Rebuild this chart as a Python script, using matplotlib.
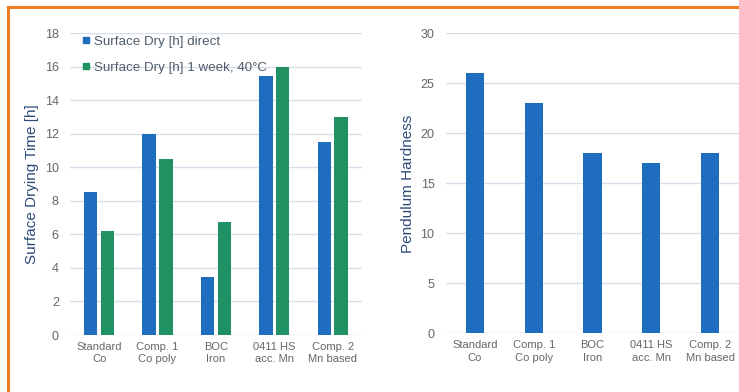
import matplotlib
matplotlib.use('Agg')
import matplotlib.pyplot as plt
import numpy as np
from matplotlib.lines import Line2D

plt.rcParams['font.family'] = ['Liberation Sans', 'DejaVu Sans']

categories = ['Standard\nCo', 'Comp. 1\nCo poly', 'BOC\nIron', '0411 HS\nacc. Mn', 'Comp. 2\nMn based']
dry_direct = [8.5, 12.0, 3.45, 15.45, 11.5]
dry_1week = [6.2, 10.5, 6.75, 16.0, 13.0]
hardness = [26, 23, 18, 17, 18]
series_names = ['Surface Dry [h] direct', 'Surface Dry [h] 1 week, 40°C']

BLUE = '#1f6dbf'
GREEN = '#1f9163'
GRID = '#d6dfe9'
TICK = '#666666'
LABEL = '#2d4a78'
ORANGE = '#f07d22'

fig = plt.figure(figsize=(7.39, 3.92), dpi=100)
ax1 = fig.add_axes([0.0947, 0.1454, 0.395, 0.770])
ax2 = fig.add_axes([0.603, 0.1497, 0.3976, 0.765])

x = np.arange(len(categories))


def style_axis(ax, ymax, step):
    ax.set_xlim(-0.5, len(categories) - 0.5)
    ax.set_ylim(0, ymax)
    ax.set_yticks(np.arange(0, ymax + 1, step))
    ax.grid(axis='y', color=GRID, linewidth=1.0)
    ax.set_axisbelow(True)
    for s in ax.spines.values():
        s.set_visible(False)
    ax.tick_params(length=0)
    ax.tick_params(axis='y', labelsize=9, labelcolor=TICK, pad=8)
    ax.set_xticks(x)
    ax.set_xticklabels(categories, fontsize=8, color=TICK, linespacing=1.3)
    ax.tick_params(axis='x', pad=5)


# left: drying time, two series
w = 0.23
ax1.bar(x - 0.145, dry_direct, w, color=BLUE)
ax1.bar(x + 0.145, dry_1week, w, color=GREEN)
style_axis(ax1, 18, 2)
ax1.set_ylabel('Surface Drying Time [h]', fontsize=11, color=LABEL, labelpad=4)

handles = [Line2D([], [], marker='s', linestyle='none', markersize=5, color=c)
           for c in (BLUE, GREEN)]
leg = ax1.legend(handles, series_names, loc='upper left', frameon=False,
                 bbox_to_anchor=(0.02, 1.015), fontsize=9.6, handlelength=0.6,
                 handletextpad=0.3, labelspacing=1.05, borderpad=0)
for t in leg.get_texts():
    t.set_color('#4f5b6b')

# right: pendulum hardness
ax2.bar(x, hardness, 0.31, color=BLUE)
style_axis(ax2, 30, 5)
ax2.set_ylabel('Pendulum Hardness', fontsize=11, color=LABEL, labelpad=4)

# orange frame (top and left edge)
fig.add_artist(Line2D([8 / 739, 1], [1 - 7 / 392, 1 - 7 / 392], color=ORANGE,
                      linewidth=2.2, transform=fig.transFigure))
fig.add_artist(Line2D([8 / 739, 8 / 739], [0, 1 - 7 / 392], color=ORANGE,
                      linewidth=2.2, transform=fig.transFigure))

fig.savefig('out.png', dpi=100)
